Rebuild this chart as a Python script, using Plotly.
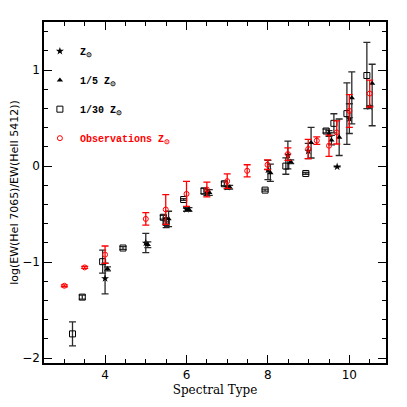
import plotly.graph_objects as go

# Z_sun models (stars)
star_x = [4.0, 5.0, 5.5, 6.0, 6.5, 7.0, 8.0, 8.49, 8.99, 9.5, 9.7, 10.0, 10.5]
star_y = [-1.17, -0.80, -0.61, -0.45, -0.278, -0.22, -0.04, 0.115, 0.157, 0.34, -0.007, 0.494, 0.62]
star_e = [0.16, 0.10, 0.03, 0.02, 0.03, 0.02, 0.10, 0.145, 0.08, 0.03, 0.0, 0.155, 0.0]

# 1/5 Z_sun models (triangles)
tri_x = [4.06, 5.05, 5.56, 6.06, 6.56, 7.06, 8.06, 8.56, 9.06, 9.56, 9.75, 10.06, 10.56]
tri_y = [-1.07, -0.818, -0.55, -0.452, -0.275, -0.22, -0.07, 0.045, 0.244, 0.27, 0.30, 0.71, 0.86]
tri_ep = [0.02, 0.03, 0.08, 0.02, 0.03, 0.02, 0.09, 0.02, 0.16, 0.05, 0.19, 0.27, 0.20]
tri_em = [0.02, 0.03, 0.08, 0.02, 0.03, 0.02, 0.09, 0.02, 0.16, 0.05, 0.19, 0.27, 0.44]

# 1/30 Z_sun models (squares)
sq_x = [3.2, 3.44, 3.94, 4.44, 5.43, 5.5, 5.93, 6.43, 6.93, 7.93, 8.44, 8.93, 9.43, 9.62, 9.94, 10.43]
sq_y = [-1.747, -1.364, -0.995, -0.853, -0.533, -0.578, -0.348, -0.26, -0.184, -0.25, 0.0, -0.077, 0.365, 0.445, 0.546, 0.943]
sq_e = [0.125, 0.02, 0.12, 0.015, 0.02, 0.04, 0.01, 0.03, 0.02, 0.01, 0.085, 0.01, 0.02, 0.10, 0.32, 0.345]

# Observations Z_sun (red circles)
obs_x = [3.0, 3.5, 4.0, 5.0, 5.49, 6.0, 6.5, 7.0, 7.49, 7.99, 8.49, 8.99, 9.2, 9.5, 9.69, 10.0, 10.5]
obs_y = [-1.246, -1.055, -0.922, -0.55, -0.452, -0.29, -0.244, -0.157, -0.049, 0.014, 0.125, 0.178, 0.265, 0.212, 0.35, 0.574, 0.755]
obs_e = [0.01, 0.01, 0.09, 0.065, 0.155, 0.13, 0.077, 0.075, 0.063, 0.05, 0.065, 0.10, 0.04, 0.11, 0.12, 0.17, 0.14]

bar_black = "#2a2a2a"
legfont = "Liberation Mono"

fig = go.Figure()

fig.add_trace(go.Scatter(
    x=star_x, y=star_y, mode="markers", name="Z<sub>⊙</sub>", legendgroup="a",
    marker=dict(symbol="star", size=6, color="black", line=dict(width=0)),
    error_y=dict(type="data", array=star_e, color=bar_black, thickness=1.3, width=3.5),
))
fig.add_trace(go.Scatter(
    x=tri_x, y=tri_y, mode="markers", name="1/5 Z<sub>⊙</sub>", legendgroup="b",
    marker=dict(symbol="triangle-up", size=5.5, color="black", line=dict(width=0)),
    error_y=dict(type="data", symmetric=False, array=tri_ep, arrayminus=tri_em,
                 color=bar_black, thickness=1.3, width=3.5),
))
fig.add_trace(go.Scatter(
    x=sq_x, y=sq_y, mode="markers", name="1/30 Z<sub>⊙</sub>", legendgroup="c",
    marker=dict(symbol="square-open", size=6, color="black", line=dict(width=1)),
    error_y=dict(type="data", array=sq_e, color=bar_black, thickness=1.3, width=3.5),
))
fig.add_trace(go.Scatter(
    x=obs_x, y=obs_y, mode="markers",
    name='<span style="color:red">Observations Z<sub>⊙</sub></span>', legendgroup="d",
    marker=dict(symbol="circle-open", size=5, color="red", line=dict(width=1)),
    error_y=dict(type="data", array=obs_e, color="red", thickness=1.3, width=3.5),
))

axis_common = dict(
    showline=True, linecolor="black", linewidth=1.5, mirror="ticks",
    ticks="inside", ticklen=8, tickwidth=1, tickcolor="black",
    showgrid=False, zeroline=False, automargin=False,
    tickfont=dict(family="DejaVu Sans", size=12, color="black"),
)

fig.update_xaxes(
    range=[2.5, 10.9], tick0=0, dtick=2,
    minor=dict(ticks="inside", ticklen=4, dtick=0.5, tick0=0, tickcolor="black", showgrid=False),
    title=dict(text="Spectral Type", font=dict(family="DejaVu Serif", size=12, color="black"), standoff=4),
    **axis_common,
)
fig.update_yaxes(
    range=[-2.05, 1.5], tick0=0, dtick=1,
    minor=dict(ticks="inside", ticklen=4, dtick=0.2, tick0=0, tickcolor="black", showgrid=False),
    title=dict(text="log(EW(HeI 7065)/EW(HeII 5412))",
               font=dict(family="DejaVu Sans", size=11, color="black"), standoff=6),
    **axis_common,
)

fig.update_layout(
    width=391, height=391,
    margin=dict(l=36, r=13, t=14, b=36),
    plot_bgcolor="white", paper_bgcolor="white",
    legend=dict(
        x=-0.012, y=0.957, xanchor="left", yanchor="top",
        bgcolor="rgba(0,0,0,0)", borderwidth=0,
        font=dict(family=legfont, size=10, color="black", weight="bold"),
        tracegroupgap=10, itemwidth=30,
    ),
)

fig.write_html("out.html")
